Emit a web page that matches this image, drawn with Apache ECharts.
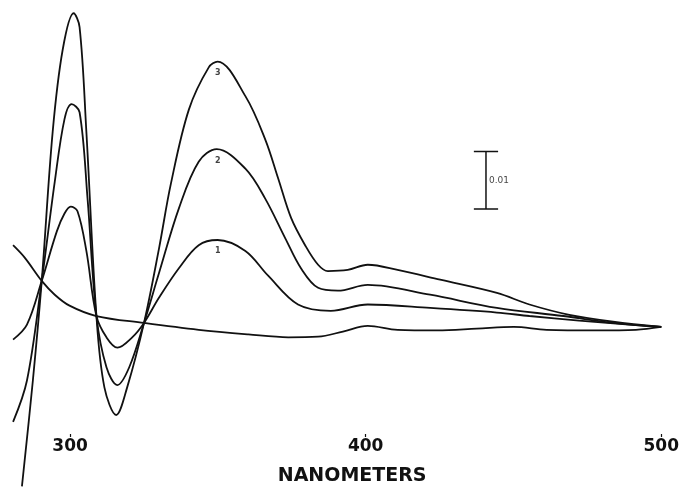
<!DOCTYPE html>
<html>
<head>
<meta charset="utf-8">
<style>
  html, body { margin: 0; padding: 0; background: #fff; }
  #chart { width: 682px; height: 491px; }
</style>
<script src="https://cdn.jsdelivr.net/npm/echarts@6/dist/echarts.min.js"></script>
</head>
<body>
<div id="chart"></div>
<script>
// Wavelength (nm) and difference absorbance (units of 0.001 A)
const curve0 = [
  [280.7, 14.2], [284.7, 12.0], [290.4, 8.0], [294.8, 5.6], [299.8, 3.7],
  [308.9, 1.9], [325.0, 0.7], [343.5, -0.5], [360.3, -1.3], [373.8, -1.8],
  [383.9, -1.7], [392.3, -0.8], [400.7, 0.2], [410.8, -0.5], [424.2, -0.6],
  [437.6, -0.3], [450.1, 0.0], [461.2, -0.5], [478.0, -0.6], [491.4, -0.5],
  [500.0, 0.0]
];
const curve1 = [
  [280.7, -2.2], [285.4, 0.4], [290.4, 8.0], [295.5, 16.6], [298.1, 19.7],
  [300.2, 20.9], [302.5, 20.1], [305.5, 13.2], [308.9, 1.9], [312.3, -1.8],
  [316.0, -3.6], [321.0, -1.8], [325.0, 0.7], [330.1, 5.1], [336.8, 10.2],
  [343.5, 14.2], [349.9, 15.1], [359.3, 13.2], [367.0, 8.9], [377.1, 3.9],
  [388.2, 2.8], [400.7, 3.9], [421.8, 3.3], [444.4, 2.5], [455.4, 1.9],
  [472.2, 1.1], [489.1, 0.4], [500.0, 0.0]
];
const curve2 = [
  [280.7, -16.5], [285.4, -9.3], [290.4, 8.0], [294.8, 25.2], [298.1, 36.1],
  [300.5, 38.7], [303.2, 37.3], [305.9, 22.3], [308.9, 1.9], [312.3, -7.0],
  [316.0, -10.1], [320.0, -7.0], [325.0, 0.7], [330.1, 9.4], [336.8, 20.6],
  [343.5, 28.7], [349.6, 30.9], [359.3, 27.5], [366.0, 22.3], [372.8, 15.4],
  [378.1, 10.2], [383.9, 6.8], [390.6, 6.3], [400.7, 7.3], [421.8, 5.6],
  [444.4, 3.3], [466.9, 1.9], [483.7, 0.7], [500.0, 0.0]
];
const curve3 = [
  [283.7, -27.7], [287.4, -9.3], [290.4, 8.0], [294.1, 33.9], [297.5, 48.2],
  [301.2, 54.5], [303.2, 52.1], [305.5, 33.9], [308.9, 1.9], [311.6, -10.5],
  [315.6, -15.3], [319.3, -10.5], [325.0, 0.7], [330.1, 13.7],
  [334.1, 24.9], [340.2, 37.8], [346.9, 45.1], [349.9, 46.1], [359.3, 40.1],
  [366.0, 32.6], [370.4, 25.8], [374.8, 18.9], [379.5, 14.2], [383.9, 10.8],
  [387.2, 9.7], [393.9, 9.9], [400.7, 10.8], [410.8, 9.9], [425.2, 8.2],
  [444.4, 5.9], [455.4, 3.9], [468.9, 2.1], [483.7, 0.9], [500.0, 0.0]
];
// Curve number labels near the 350 nm peaks
const peakLabels = [
  [350, 44.2, '3'],
  [350, 28.9, '2'],
  [350, 13.2, '1']
];
// Scale bar: 0.01 A = 10 units
const scaleBarX = 440.7;
const scaleBarLow = 20.5;
const scaleBarHigh = 30.5;
const scaleCapHalf = 4.1;
const scaleLabel = '0.01';
const tickLabels = [300, 400, 500];
const xTitle = 'NANOMETERS';

const black = '#111';
const lineSeries = (d) => ({
  type: 'line', data: d, showSymbol: false, smooth: 0.35, clip: false,
  lineStyle: { color: black, width: 1.8 }, silent: true, animation: false
});

const chart = echarts.init(document.getElementById('chart'), null, { renderer: 'canvas' });
chart.setOption({
  animation: false,
  backgroundColor: '#fff',
  grid: { left: 11, right: 16.5, top: 0, bottom: 54, containLabel: false },
  xAxis: {
    type: 'value', min: 280, max: 500,
    axisLine: { show: false, onZero: false },
    splitLine: { show: false },
    axisTick: { show: true, length: 3, customValues: tickLabels, lineStyle: { color: black, width: 1.2 } },
    axisLabel: {
      customValues: tickLabels, margin: 4,
      color: black, fontFamily: 'DejaVu Sans', fontWeight: 'bold', fontSize: 17
    },
    name: xTitle, nameLocation: 'middle', nameGap: 33,
    nameTextStyle: { color: black, fontFamily: 'DejaVu Sans', fontWeight: 'bold', fontSize: 19, padding: [0, 0, 0, 32] }
  },
  yAxis: {
    type: 'value', min: -18.6, max: 56.8, show: false,
    splitLine: { show: false }
  },
  series: [
    lineSeries(curve0),
    lineSeries(curve1),
    lineSeries(curve2),
    lineSeries(curve3),
    {
      type: 'line', showSymbol: false, clip: false, silent: true,
      lineStyle: { color: black, width: 1.5 },
      data: [[scaleBarX, scaleBarLow], [scaleBarX, scaleBarHigh]]
    },
    {
      type: 'line', showSymbol: false, clip: false, silent: true, connectNulls: false,
      lineStyle: { color: black, width: 1.5 },
      data: [
        [scaleBarX - scaleCapHalf, scaleBarHigh], [scaleBarX + scaleCapHalf, scaleBarHigh], '-',
        [scaleBarX - scaleCapHalf, scaleBarLow], [scaleBarX + scaleCapHalf, scaleBarLow]
      ]
    },
    {
      type: 'scatter', symbolSize: 0, silent: true, clip: false,
      data: [[scaleBarX, (scaleBarLow + scaleBarHigh) / 2, scaleLabel]],
      label: {
        show: true, position: 'right', distance: 3,
        formatter: (p) => p.data[2],
        color: black, fontFamily: 'DejaVu Sans', fontSize: 9
      }
    },
    {
      type: 'scatter', symbolSize: 0, silent: true, clip: false,
      data: peakLabels,
      label: {
        show: true, position: 'inside',
        formatter: (p) => p.data[2],
        color: black, fontFamily: 'DejaVu Sans', fontWeight: 'bold', fontSize: 8
      }
    }
  ]
});
</script>
</body>
</html>
